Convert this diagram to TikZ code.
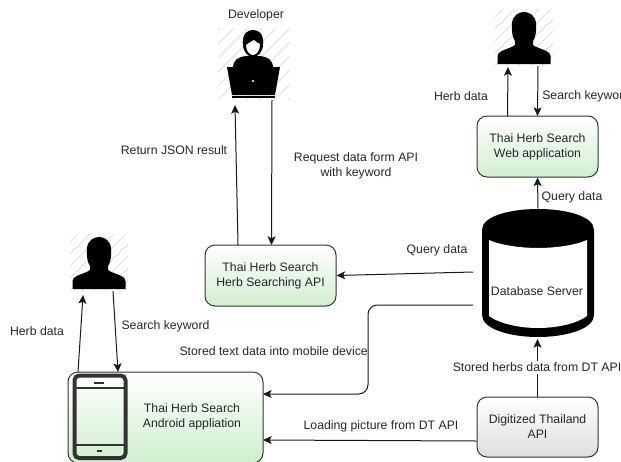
\documentclass[tikz,border=0pt]{standalone}
\usepackage{fontspec}
\setmainfont{Liberation Sans}
\usetikzlibrary{arrows.meta}
\definecolor{herbgreen}{HTML}{D0EFD0}
\tikzset{
    herbbox/.style = {draw=black!80, line width=0.75pt, rounded corners=7.5pt, top color=white, bottom color=herbgreen, align=center, text=black!85, font=\fontsize{9.2}{11.25}\selectfont},
    greybox/.style = {herbbox, bottom color=black!13},
    txt/.style = {align=center, text=black!85, inner sep=0pt, font=\fontsize{9.2}{11.25}\selectfont},
    flow/.style = {draw=black!90, line width=0.75pt, -{Stealth[length=6.5pt, width=6pt, inset=1.5pt]}},
    hatching/.style = {draw=black!10, line width=1pt},
    pics/bust/.style = {code = {
        \begin{scope}
            \clip (-29, -3) rectangle (29, 54);
            \foreach \d in {-90, -78, ..., 30}
                \draw [hatching] (\d, 54) -- (\d + 57, -3);
        \end{scope}
        \fill (-26.5, 52) -- (-26.5, 44) .. controls (-26, 38) and (-14, 37) .. (-9, 33) -- (-9, 29) .. controls (-12, 25) and (-12.5, 18) .. (-12, 11) .. controls (-11, 3) and (-5, 0) .. (0, 0) .. controls (5, 0) and (11, 3) .. (12, 11) .. controls (12.5, 18) and (12, 25) .. (9, 29) -- (9, 33) .. controls (14, 37) and (26, 38) .. (26.5, 44) -- (26.5, 52) -- cycle;
    }},
}
\begin{document}
\begin{tikzpicture}[x=0.75pt, y=-0.75pt]
    \useasboundingbox (0, 0) rectangle (621, 461);
    \clip (0, 0) rectangle (621, 461);

    \begin{scope}
        \clip (218, 28) rectangle (290, 100);
        \foreach \d in {120, 134, ..., 288}
            \draw [hatching] (\d, 100) -- (\d + 72, 28);
    \end{scope}
    \fill (240, 68) -- (233, 68) .. controls (233, 60) and (238, 57) .. (246, 56) -- (260, 56) .. controls (268, 57) and (273, 60) .. (273, 68) -- cycle;
    \fill (243, 44) .. controls (242, 33) and (248, 30) .. (253, 30) .. controls (258, 30) and (264, 33) .. (263, 44) .. controls (263, 52) and (258, 57) .. (253, 57) .. controls (248, 57) and (243, 52) .. (243, 44) -- cycle;
    \fill [white] (246, 45) .. controls (249, 43) and (252, 41) .. (254, 40) .. controls (256, 42) and (258, 43) .. (260, 44) .. controls (260, 50) and (257, 55) .. (253, 55) .. controls (249, 55) and (246, 50) .. (246, 45) -- cycle;
    \fill (227, 67) -- (280, 67) -- (275, 95) -- (232, 95) -- cycle;
    \fill (232, 96) rectangle (275, 98);
    \fill [white] (253, 81) circle (1.2);

    \pic at (99, 237) {bust};
    \pic at (524, 12) {bust};

    \fill (482, 230) .. controls (482, 216) and (510, 209) .. (538, 209) .. controls (566, 209) and (594, 216) .. (594, 230) -- (594, 315) .. controls (594, 329) and (566, 337) .. (538, 337) .. controls (510, 337) and (482, 329) .. (482, 315) -- cycle;
    \fill [white] (489, 240) .. controls (500, 245) and (520, 248) .. (538, 248) .. controls (556, 248) and (576, 245) .. (587, 240) -- (587, 316) .. controls (576, 324) and (556, 328) .. (538, 328) .. controls (520, 328) and (500, 324) .. (489, 316) -- cycle;

    \node (dbserver) [minimum width=84pt, minimum height=96pt, inner sep=0pt] at (538, 273) {};
    \node (dblabel) [txt] at (537, 291) {Database Server};
    \node (searchapi) [herbbox, minimum width=98.25pt, minimum height=45.75pt] at (270.5, 275.5) {Thai Herb Search\\Herb Searching API};
    \node (webapp) [herbbox, minimum width=90.75pt, minimum height=45.75pt] at (537.5, 146.5) {Thai Herb Search\\Web application};
    \node (dtapi) [greybox, minimum width=90.75pt, minimum height=45pt] at (537.5, 427) {Digitized Thailand\\API};
    \node (androidapp) [herbbox, minimum width=146.25pt, minimum height=68.25pt] at (165.5, 417.5) {};
    \node (androidlabel) [txt] at (192, 417) {Thai Herb Search\\Android appliation};

    \draw [draw=black!80, line width=3pt, rounded corners=3.5pt] (74.5, 375.5) rectangle (125.5, 458);
    \draw [draw=black!80, line width=1.3pt] (75, 388) -- (125, 388);
    \draw [draw=black!80, line width=1.3pt] (75, 445) -- (125, 445);
    \draw [draw=black!80, line width=1.5pt] (94, 383) -- (104, 383);
    \draw [draw=black!80, line width=1.5pt] (96.5, 450.5) -- (101.5, 450.5);

    \coordinate (leftup) at (83, 295);
    \coordinate (leftdown) at (113, 291);
    \coordinate (devup) at (235, 105);
    \coordinate (devdown) at (272, 100);
    \coordinate (rightup) at (508, 67);
    \coordinate (rightdown) at (538, 66);
    \coordinate (dbleft) at (473, 272);
    \coordinate (dbstore) at (473, 305);

    \draw [flow] (78, 372) -- (leftup);
    \draw [flow] (leftdown) -- (118, 372);
    \draw [flow] (238, 245) -- (devup);
    \draw [flow] (devdown) -- (271.5, 245);
    \draw [flow] (507.5, 116) -- (rightup);
    \draw [flow] (rightdown) -- (537.5, 116);
    \draw [flow] (dbserver.north) -- (webapp.south);
    \draw [flow] (dbleft) -- (searchapi.east);
    \draw [flow, rounded corners=7pt] (dbstore) -- (368, 305) -- (368, 394) -- (263, 394);
    \draw [flow] (dtapi.west |- 0, 441) -- (263, 440);
    \draw [flow] (dtapi.north) -- (537.5, 339);

    \node (devlabel) [txt] at (256, 15) {Developer};
    \node (jsonlabel) [txt] at (174, 150) {Return JSON result};
    \node (requestlabel) [txt] at (356, 166) {Request data form API\\with keyword};
    \node (herbleft) [txt] at (37, 331) {Herb data};
    \node (keywordleft) [txt] at (165.5, 326) {Search keyword};
    \node (herbright) [txt] at (461, 96) {Herb data};
    \node (keywordright) [txt, anchor=west] at (542, 96) {Search keyword};
    \node (querytop) [txt] at (572, 197) {Query data};
    \node (queryleft) [txt] at (437, 250) {Query data};
    \node (storedtext) [txt, anchor=east] at (368, 351) {Stored text data into mobile device};
    \node (storedherbs) [txt, fill=white, inner xsep=1pt, inner ysep=1.5pt] at (537, 367) {Stored herbs data from DT API};
    \node (loadlabel) [txt] at (381, 426) {Loading picture from DT API};
\end{tikzpicture}
\end{document}
